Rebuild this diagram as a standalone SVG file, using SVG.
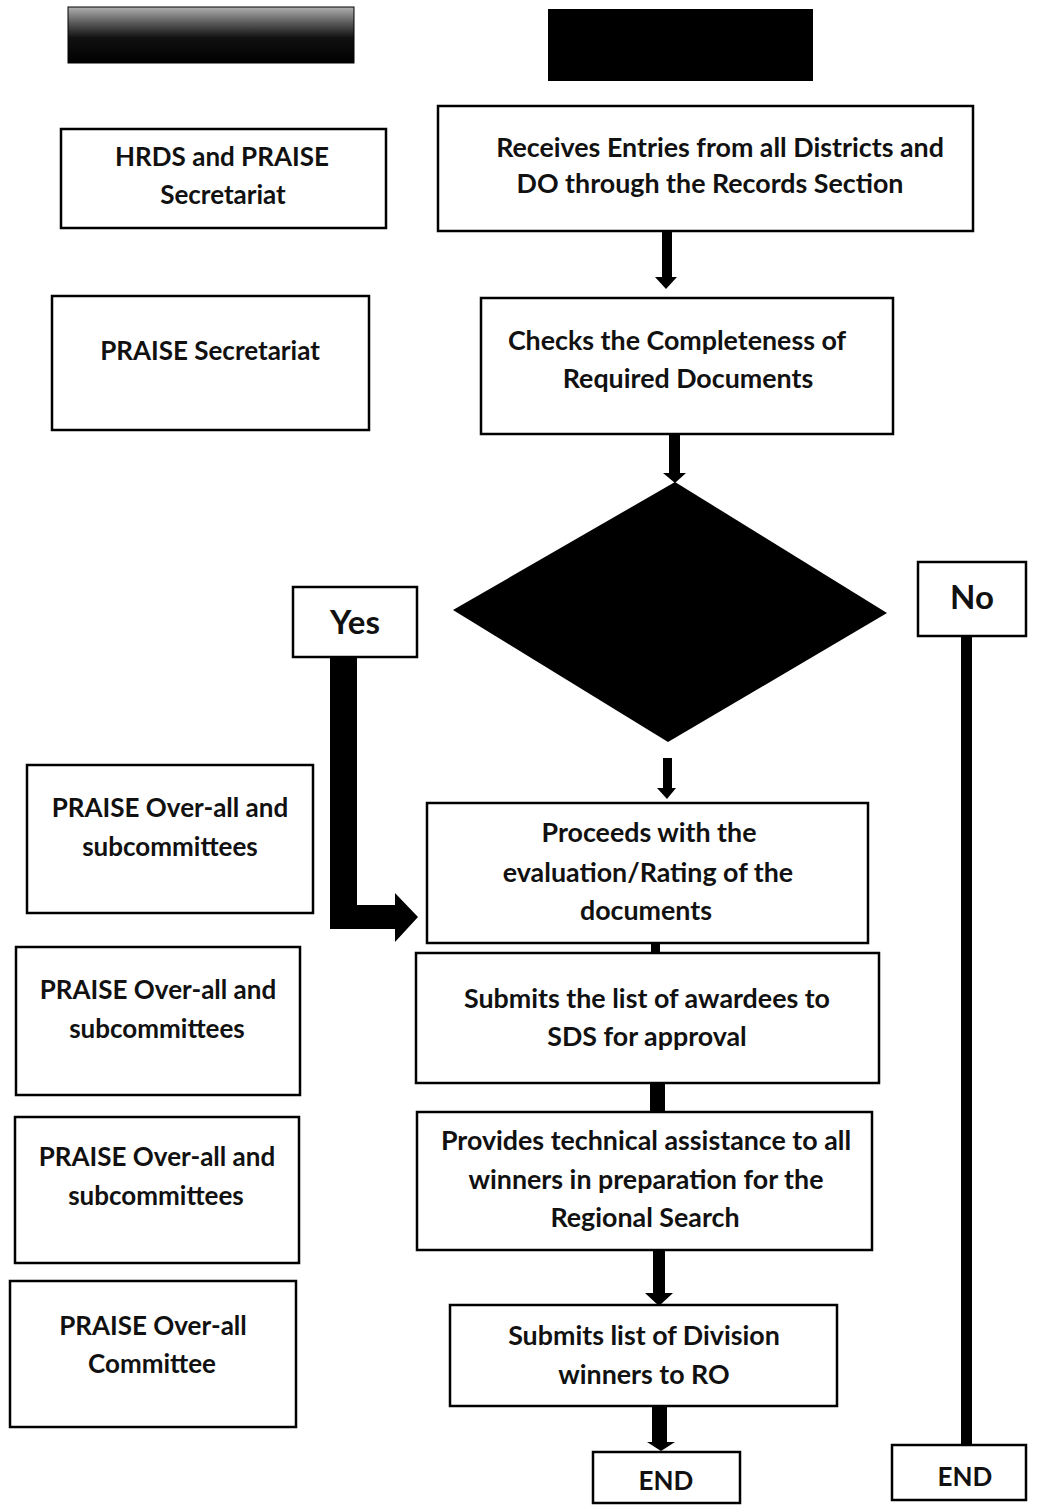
<svg xmlns="http://www.w3.org/2000/svg" width="1042" height="1507" viewBox="0 0 1042 1507">
<style>
.box{fill:#fff;stroke:#000;stroke-width:2.5}
.t{font-family:Lato,"Open Sans","Liberation Sans",sans-serif;font-weight:700;font-size:26px;fill:#111;text-anchor:middle}
.m{font-size:26.8px}
.big{font-size:33px}
.arr{fill:#000}
</style>
<defs>
<linearGradient id="noise" x1="0" y1="0" x2="0" y2="1">
<stop offset="0" stop-color="#b0b0b0"/>
<stop offset="0.3" stop-color="#555"/>
<stop offset="0.55" stop-color="#111"/>
<stop offset="1" stop-color="#000"/>
</linearGradient>
</defs>
<rect width="1042" height="1507" fill="#fff"/>
<g id="header-left"><rect x="68" y="7" width="286" height="56" fill="url(#noise)" stroke="#000" stroke-width="1"/></g>
<g id="header-right"><rect x="548" y="9" width="265" height="72" fill="#000"/></g>

<g id="lane-hrds"><rect class="box" x="61" y="129" width="325" height="99"/>
<text class="t" x="222" y="166">HRDS and PRAISE</text><text class="t" x="223" y="204">Secretariat</text></g>
<g id="lane-secretariat"><rect class="box" x="52" y="296" width="317" height="134"/>
<text class="t" x="210" y="360">PRAISE Secretariat</text></g>
<g id="lane-committee1"><rect class="box" x="27" y="765" width="286" height="148"/>
<text class="t" x="170" y="817">PRAISE Over-all and</text><text class="t" x="170" y="856">subcommittees</text></g>
<g id="lane-committee2"><rect class="box" x="16" y="947" width="284" height="148"/>
<text class="t" x="158" y="999">PRAISE Over-all and</text><text class="t" x="157" y="1038">subcommittees</text></g>
<g id="lane-committee3"><rect class="box" x="15" y="1117" width="284" height="146"/>
<text class="t" x="157" y="1166">PRAISE Over-all and</text><text class="t" x="156" y="1205">subcommittees</text></g>
<g id="lane-committee4"><rect class="box" x="10" y="1281" width="286" height="146"/>
<text class="t" x="153" y="1335">PRAISE Over-all</text><text class="t" x="152" y="1373">Committee</text></g>

<g id="connectors">
<rect class="arr" x="662" y="231" width="10" height="47"/><polygon class="arr" points="655,277 677,277 666,289"/>
<rect class="arr" x="669" y="434" width="11" height="40"/><polygon class="arr" points="663,473 686,473 675,483"/>
<rect class="arr" x="663" y="758" width="9" height="31"/><polygon class="arr" points="657,788 676,788 667,799"/>
<rect class="arr" x="651" y="933" width="9" height="40"/><polygon class="arr" points="645,972 667,972 656,984"/>
<rect class="arr" x="650" y="1075" width="15" height="37"/>
<rect class="arr" x="653" y="1248" width="12" height="46"/><polygon class="arr" points="645,1293 673,1293 659,1306"/>
<rect class="arr" x="652" y="1406" width="15" height="37"/><polygon class="arr" points="647,1442 675,1442 661,1451"/>
<path class="arr" d="M330,657 H357 V905 H395 V893 L418,917 L395,942 V929 H330 Z"/>
<rect class="arr" x="961" y="636" width="11" height="810"/>
</g>

<g id="receives"><rect class="box" x="438" y="106" width="535" height="125"/>
<text class="t m" x="720" y="157">Receives Entries from all Districts and</text><text class="t m" x="710" y="193">DO through the Records Section</text></g>
<g id="checks"><rect class="box" x="481" y="298" width="412" height="136"/>
<text class="t m" x="677" y="350">Checks the Completeness of</text><text class="t m" x="688" y="388">Required Documents</text></g>
<g id="decision"><polygon points="675,482 887,613 668,742 453,610" fill="#000"/></g>
<g id="yes"><rect class="box" x="293" y="587" width="124" height="70"/><text class="t big" x="355" y="634">Yes</text></g>
<g id="no"><rect class="box" x="918" y="562" width="108" height="74"/><text class="t big" x="972" y="609">No</text></g>
<g id="proceeds"><rect class="box" x="427" y="803" width="441" height="140"/>
<text class="t m" x="649" y="842">Proceeds with the</text><text class="t m" x="648" y="882">evaluation/Rating of the</text><text class="t m" x="646" y="920">documents</text></g>
<g id="submits-awardees"><rect class="box" x="416" y="953" width="463" height="130"/>
<text class="t m" x="647" y="1008">Submits the list of awardees to</text><text class="t m" x="647" y="1046">SDS for approval</text></g>
<g id="provides"><rect class="box" x="417" y="1112" width="455" height="138"/>
<text class="t m" x="646" y="1150">Provides technical assistance to all</text><text class="t m" x="646" y="1189">winners in preparation for the</text><text class="t m" x="645" y="1227">Regional Search</text></g>
<g id="submits-division"><rect class="box" x="450" y="1305" width="387" height="101"/>
<text class="t m" x="644" y="1345">Submits list of Division</text><text class="t m" x="644" y="1384">winners to RO</text></g>
<g id="end1"><rect class="box" x="593" y="1452" width="147" height="51"/><text class="t" x="666" y="1490">END</text></g>
<g id="end2"><rect class="box" x="892" y="1445" width="134" height="55"/><text class="t" x="965" y="1486">END</text></g>
</svg>
